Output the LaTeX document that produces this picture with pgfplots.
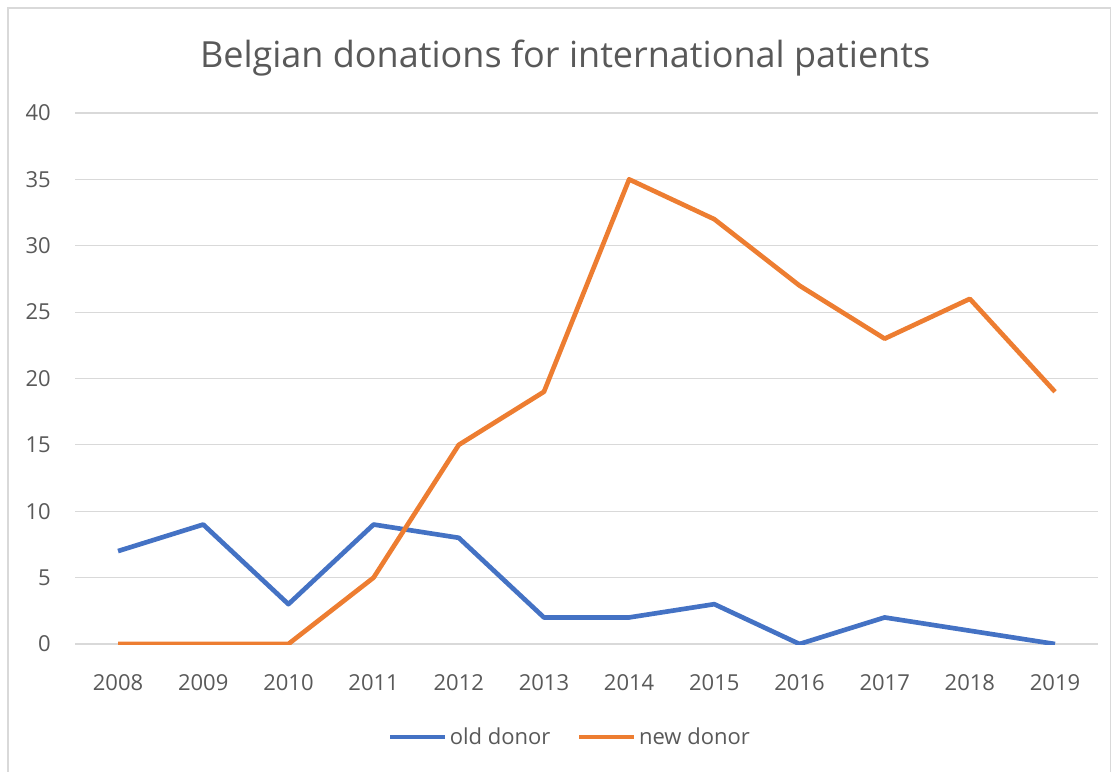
\documentclass[border=0pt]{standalone}
\usepackage{fontspec}
\setmainfont{Open Sans}
\usepackage{pgfplots}
\pgfplotsset{compat=1.18}
\definecolor{oldblue}{HTML}{4472C4}
\definecolor{neworange}{HTML}{ED7D31}
\definecolor{txtgray}{HTML}{595959}
\definecolor{gridgray}{HTML}{D9D9D9}
\begin{document}
\begin{tikzpicture}
\useasboundingbox (-56.6pt,-95.25pt) rectangle (780.4pt,483pt);
\draw[gridgray, line width=0.8pt] (-50.6pt,-100pt) -- (-50.6pt,477pt) -- (776pt,477pt) -- (776pt,-100pt);
\begin{axis}[
    scale only axis,
    width=766.6pt, height=398.25pt,
    xmin=-0.5, xmax=11.5,
    ymin=0, ymax=40,
    xtick={0,...,11},
    xticklabels={2008,2009,2010,2011,2012,2013,2014,2015,2016,2017,2018,2019},
    ytick={0,5,...,40},
    ymajorgrids,
    grid style={gridgray, line width=0.9pt},
    axis line style={draw=none},
    major tick length=0pt,
    tick label style={font=\fontsize{16.5}{19}\selectfont, text=txtgray},
    /pgf/number format/assume math mode=true,
    xticklabel style={yshift=-19pt},
    yticklabel style={xshift=-15pt},
    title={Belgian donations for international patients},
    title style={font=\fontsize{27}{32}\selectfont, text=txtgray, at={(0.479,1.0)}, anchor=center, yshift=35pt},
    legend columns=2,
    legend style={draw=none, font=\fontsize{16.5}{19}\selectfont, text=txtgray,
        at={(0.484,-0.175)}, anchor=center,
        /tikz/every even column/.append style={column sep=18pt}},
    legend image code/.code={\draw[#1] (0pt,0pt) -- (41pt,0pt);},
]
\addplot[oldblue, line width=3.5pt, line join=round] coordinates {
(0,7) (1,9) (2,3) (3,9) (4,8) (5,2) (6,2) (7,3) (8,0) (9,2) (10,1) (11,0)};
\addlegendentry{old donor}
\addplot[neworange, line width=3.5pt, line join=round] coordinates {
(0,0) (1,0) (2,0) (3,5) (4,15) (5,19) (6,35) (7,32) (8,27) (9,23) (10,26) (11,19)};
\addlegendentry{new donor}
\end{axis}
\end{tikzpicture}
\end{document}
